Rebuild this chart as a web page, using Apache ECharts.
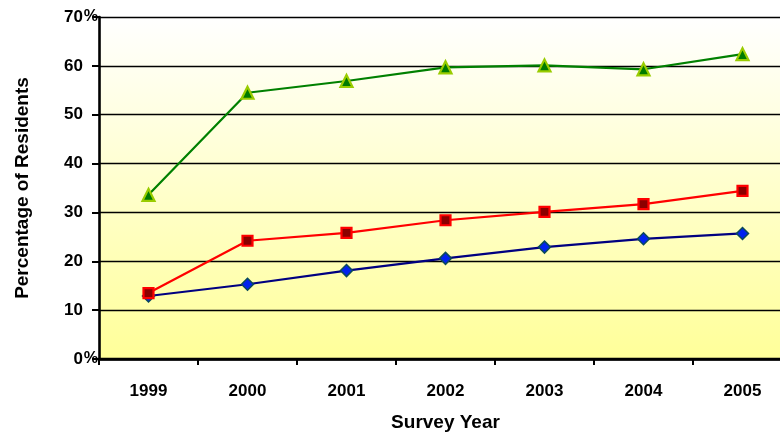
<!DOCTYPE html>
<html>
<head>
<meta charset="utf-8">
<script src="https://cdn.jsdelivr.net/npm/echarts@6/dist/echarts.min.js"></script>
<style>
  html, body { margin: 0; padding: 0; background: #ffffff; }
  /* the plot runs a little past the right edge, so the frame clips it */
  #frame { position: relative; width: 780px; height: 437px; overflow: hidden; }
  #chart { position: absolute; left: 0; top: 0; width: 792px; height: 437px; }
</style>
</head>
<body>
<div id="frame"><div id="chart"></div></div>
<script>
// Survey years along the horizontal axis
const years = ['1999', '2000', '2001', '2002', '2003', '2004', '2005'];

// Percentage of residents per survey year, one array per series
const seriesLow = [12.9, 15.3, 18.1, 20.6, 22.9, 24.6, 25.7];
const seriesMid = [13.5, 24.2, 25.8, 28.4, 30.1, 31.7, 34.4];
const seriesHigh = [33.6, 54.5, 56.9, 59.7, 60.1, 59.3, 62.4];

// Vertical axis range and step
const yMin = 0;
const yMax = 70;
const yStep = 10;

const FONT = 'Liberation Sans, Arial, sans-serif';

const chart = echarts.init(document.getElementById('chart'), null, { renderer: 'canvas' });

chart.setOption({
  animation: false,
  backgroundColor: '#ffffff',
  grid: {
    left: 99,
    right: 0,
    top: 17,
    bottom: 74,
    show: true,
    borderWidth: 0,
    backgroundColor: new echarts.graphic.LinearGradient(0, 0, 0, 1, [
      { offset: 0, color: '#ffffff' },
      { offset: 1, color: '#ffff99' }
    ])
  },
  xAxis: [
    {
      type: 'category',
      data: years,
      boundaryGap: true,
      axisLine: { lineStyle: { color: '#000000', width: 2.6 } },
      axisTick: { show: true, inside: false, length: 6, lineStyle: { color: '#000000', width: 2 } },
      axisLabel: {
        margin: 24,
        color: '#000000',
        fontFamily: FONT,
        fontWeight: 'bold',
        fontSize: 17
      },
      name: 'Survey Year',
      nameLocation: 'middle',
      nameGap: 54,
      nameTextStyle: {
        color: '#000000',
        fontFamily: FONT,
        fontWeight: 'bold',
        fontSize: 19
      },
      splitLine: { show: false }
    },
    {
      // heavy border line along the top of the plot
      type: 'category',
      data: years,
      position: 'top',
      axisLine: { lineStyle: { color: '#000000', width: 2.4 } },
      axisTick: { show: false },
      axisLabel: { show: false },
      splitLine: { show: false }
    }
  ],
  yAxis: [
    {
      type: 'value',
      min: yMin,
      max: yMax,
      interval: yStep,
      axisLine: { show: true, lineStyle: { color: '#000000', width: 2.6 } },
      axisTick: { show: true, inside: false, length: 7, lineStyle: { color: '#000000', width: 2 } },
      axisLabel: {
        margin: 16,
        color: '#000000',
        fontFamily: FONT,
        fontWeight: 'bold',
        fontSize: 17
      },
      splitLine: { show: true, lineStyle: { color: '#000000', width: 1.4 } },
      name: 'Percentage of Residents',
      nameLocation: 'middle',
      nameGap: 67,
      nameRotate: 90,
      nameTextStyle: {
        color: '#000000',
        fontFamily: FONT,
        fontWeight: 'bold',
        fontSize: 19
      }
    },
    {
      // percent signs beside the end labels of the scale
      type: 'value',
      position: 'left',
      min: yMin,
      max: yMax,
      interval: yStep,
      axisLine: { show: false },
      axisTick: { show: false },
      splitLine: { show: false },
      axisLabel: {
        margin: 1,
        color: '#000000',
        fontFamily: FONT,
        fontWeight: 'bold',
        fontSize: 16,
        verticalAlign: 'middle',
        padding: [0, 0, 4, 0],
        formatter: function (v) { return (v === yMin || v === yMax) ? '%' : ''; }
      }
    }
  ],
  series: [
    {
      type: 'line',
      data: seriesLow,
      yAxisIndex: 0,
      symbol: 'diamond',
      symbolSize: 12,
      lineStyle: { color: '#000080', width: 2.2 },
      itemStyle: { color: '#0022ee', borderColor: '#0b4a5a', borderWidth: 1.5 },
      z: 3
    },
    {
      type: 'line',
      data: seriesMid,
      yAxisIndex: 0,
      symbol: 'rect',
      symbolSize: 10,
      lineStyle: { color: '#ff0000', width: 2.2 },
      itemStyle: { color: '#8b0000', borderColor: '#ff0000', borderWidth: 2.2 },
      z: 4
    },
    {
      type: 'line',
      data: seriesHigh,
      yAxisIndex: 0,
      symbol: 'triangle',
      symbolSize: 12,
      lineStyle: { color: '#008000', width: 2.2 },
      itemStyle: { color: '#007a00', borderColor: '#99cc00', borderWidth: 2.2 },
      z: 5
    }
  ]
});
</script>
</body>
</html>
